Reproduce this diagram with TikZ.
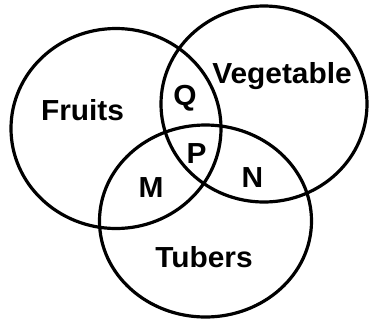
\documentclass[tikz,border=0pt]{standalone}
\usepackage{fontspec}
\setmainfont{Liberation Sans}
\begin{document}
\begin{tikzpicture}[x=1pt,y=-1pt,
  setring/.style={line width=3.2pt, draw=black},
  lbl/.style={inner sep=0pt, anchor=base, font=\fontsize{29}{29}\selectfont\bfseries, xscale=1.03}]
\useasboundingbox (0,0) rectangle (370,325);
\fill[white] (0,0) rectangle (370,325);
\draw[setring] (116,128.5) ellipse [x radius=105, y radius=100];
\draw[setring] (264,104) ellipse [x radius=103, y radius=98];
\draw[setring] (205.5,221) ellipse [x radius=106, y radius=96];
\node[lbl] (fruits) at (82.5,120) {Fruits};
\node[lbl] (veg) at (282,83) {Vegetable};
\node[lbl] (q) at (185,105) {Q};
\node[lbl] (p) at (196.5,163) {P};
\node[lbl] (m) at (151,197) {M};
\node[lbl] (n) at (252.5,187) {N};
\node[lbl] (tubers) at (204,267) {Tubers};
\end{tikzpicture}
\end{document}
